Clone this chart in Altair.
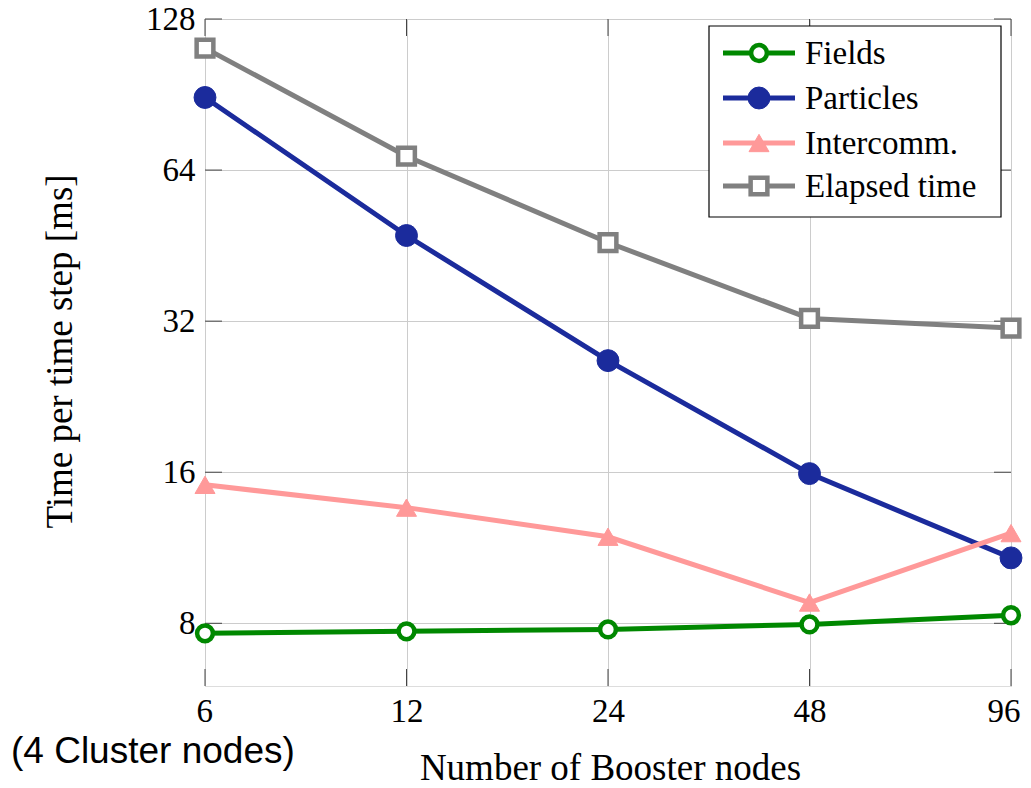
import altair as alt
import pandas as pd

# ---------------- data ----------------
nodes = [6, 12, 24, 48, 96]
series_names = ["Fields", "Particles", "Intercomm.", "Elapsed time"]
fields = [7.64, 7.71, 7.78, 7.96, 8.3]
particles = [89.3, 47.4, 26.7, 15.9, 10.8]
intercomm = [15.1, 13.6, 11.9, 8.8, 12.1]
elapsed = [112.0, 68.2, 45.9, 32.4, 31.0]
y_ticks = [8, 16, 32, 64, 128]
x_title = "Number of Booster nodes"
y_title = "Time per time step [ms]"
note = "(4 Cluster nodes)"

# ---------------- styles ----------------
values_by_series = [fields, particles, intercomm, elapsed]
colors = ["#008800", "#1b2b9c", "#ff9999", "#808080"]
shapes = ["circle", "circle", "triangle-up", "square"]
fills = ["white", "#1b2b9c", "#ff9999", "white"]
sizes = [250, 480, 400, 280]
pstroke = [4.5, 1, 1, 4.5]

SERIF = "Liberation Serif"
W, H = 806, 667

xs = alt.Scale(type="log", base=2, domain=[6, 96], nice=False)
ys = alt.Scale(type="log", base=2, domain=[6, 128], nice=False)

x_axis = alt.Axis(values=nodes, format="d", grid=True, gridColor="#cccccc", gridWidth=1,
                  domain=False, ticks=False, labelFont=SERIF, labelFontSize=33,
                  labelColor="black", labelPadding=9, labelFlush=True, labelFlushOffset=9,
                  title=x_title, titleFont=SERIF, titleFontSize=37,
                  titleFontWeight="normal", titleColor="black",
                  titleX=W / 2 + 2, titleY=93, titleBaseline="alphabetic", titleAlign="center")
y_axis = alt.Axis(values=y_ticks, format="d", grid=True, gridColor="#cccccc", gridWidth=1,
                  domain=False, ticks=False, labelFont=SERIF, labelFontSize=33,
                  labelColor="black", labelPadding=10, labelFlush=False,
                  title=y_title, titleFont=SERIF, titleFontSize=37,
                  titleFontWeight="normal", titleColor="black", titleAngle=-90,
                  titleX=-134, titleY=332, titleBaseline="alphabetic", titleAlign="center")

rows = []
for name, vals in zip(series_names, values_by_series):
    for n, v in zip(nodes, vals):
        rows.append({"series": name, "nodes": n, "time": v})
df = pd.DataFrame(rows)

layers = []

# inward ticks (pgfplots style)
TK = 17
yt = pd.DataFrame({"v": y_ticks})
xt = pd.DataFrame({"n": nodes})
layers.append(alt.Chart(yt).mark_rule(color="#444444", strokeWidth=1).encode(
    y=alt.Y("v:Q", scale=ys, axis=y_axis), x=alt.value(0), x2=alt.value(TK)))
layers.append(alt.Chart(yt).mark_rule(color="#444444", strokeWidth=1).encode(
    y=alt.Y("v:Q", scale=ys, axis=y_axis), x=alt.value(W - TK), x2=alt.value(W)))
layers.append(alt.Chart(xt).mark_rule(color="#444444", strokeWidth=1).encode(
    x=alt.X("n:Q", scale=xs, axis=x_axis), y=alt.value(H - TK), y2=alt.value(H)))
layers.append(alt.Chart(xt).mark_rule(color="#444444", strokeWidth=1).encode(
    x=alt.X("n:Q", scale=xs, axis=x_axis), y=alt.value(0), y2=alt.value(TK)))

for i, name in enumerate(series_names):
    d = df[df["series"] == name]
    enc = dict(x=alt.X("nodes:Q", scale=xs, axis=x_axis),
               y=alt.Y("time:Q", scale=ys, axis=y_axis))
    layers.append(alt.Chart(d).mark_line(color=colors[i], strokeWidth=5, clip=False).encode(**enc))
    layers.append(alt.Chart(d).mark_point(shape=shapes[i], filled=True, fill=fills[i],
                                          stroke=colors[i], strokeWidth=pstroke[i],
                                          size=sizes[i], opacity=1, clip=False).encode(**enc))

# legend box
lx0, lx1, ly0, ly1 = 504, 796, 7, 198
layers.append(alt.Chart(pd.DataFrame({"a": [0]})).mark_rect(
    fill="white", stroke="black", strokeWidth=1.2).encode(
    x=alt.value(lx0), x2=alt.value(lx1), y=alt.value(ly0), y2=alt.value(ly1)))
row_y = [34, 79, 124, 167]
for i, name in enumerate(series_names):
    ld = pd.DataFrame({"name": [name]})
    yy = row_y[i]
    layers.append(alt.Chart(ld).mark_rule(color=colors[i], strokeWidth=5).encode(
        x=alt.value(518), x2=alt.value(590), y=alt.value(yy)))
    layers.append(alt.Chart(ld).mark_point(shape=shapes[i], filled=True, fill=fills[i],
                                           stroke=colors[i], strokeWidth=pstroke[i],
                                           size=sizes[i], opacity=1).encode(
        x=alt.value(554), y=alt.value(yy)))
    layers.append(alt.Chart(ld).mark_text(align="left", baseline="middle", font=SERIF,
                                          fontSize=33, color="black").encode(
        x=alt.value(600), y=alt.value(yy + 1), text="name:N"))

# note text
layers.append(alt.Chart(pd.DataFrame({"t": [note]})).mark_text(
    align="left", baseline="alphabetic", font="Liberation Sans", fontSize=37,
    color="black").encode(x=alt.value(11 - 205), y=alt.value(763 - 19), text="t:N"))

chart = alt.layer(*layers).properties(
    width=W, height=H,
    autosize=alt.AutoSizeParams(type="none"),
    padding={"left": 197, "top": 11, "right": 12, "bottom": 100},
).configure_view(stroke="black", strokeWidth=1.3).configure(background="white")

chart.save("out.html", embed_options={"renderer": "svg", "actions": False})
